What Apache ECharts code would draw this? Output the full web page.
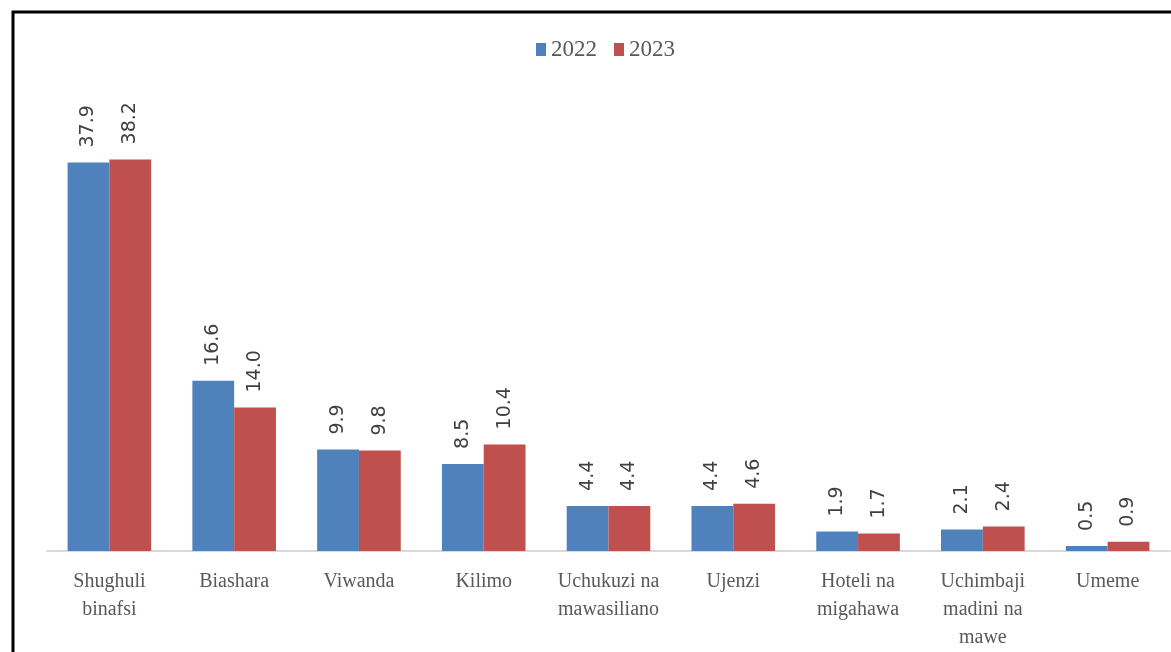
<!DOCTYPE html>
<html>
<head>
<meta charset="utf-8">
<script src="https://cdn.jsdelivr.net/npm/echarts@6/dist/echarts.min.js"></script>
<style>
    html, body { margin: 0; padding: 0; background: #fff; }
    #chart { width: 1171px; height: 652px; }
</style>
</head>
<body>
<div id="chart"></div>
<script>
// sekta na asilimia kwa kila mwaka
const categories = [
    'Shughuli\nbinafsi', 'Biashara', 'Viwanda', 'Kilimo', 'Uchukuzi na\nmawasiliano',
    'Ujenzi', 'Hoteli na\nmigahawa', 'Uchimbaji\nmadini na\nmawe', 'Umeme'
]
const values2022 = [37.9, 16.6, 9.9, 8.5, 4.4, 4.4, 1.9, 2.1, 0.5]
const values2023 = [38.2, 14.0, 9.8, 10.4, 4.4, 4.6, 1.7, 2.4, 0.9]

const chart = echarts.init(document.getElementById('chart'))

const labelStyle = {
    show: true,
    position: 'top',
    rotate: 90,
    align: 'left',
    verticalAlign: 'middle',
    distance: 15,
    fontFamily: 'DejaVu Sans, Arial, sans-serif',
    fontSize: 19,
    color: '#404040',
    formatter: p => p.value.toFixed(1)
}

const option = {
    animation: false,
    legend: {
        data: ['2022', '2023'],
        top: 33,
        left: 531,
        itemWidth: 10,
        itemHeight: 13,
        itemGap: 17,
        icon: 'rect',
        textStyle: { fontFamily: 'Liberation Serif, Times New Roman, serif', fontSize: 23, color: '#595959' }
    },
    grid: { left: 47, right: 1, top: 141, height: 415 },
    xAxis: {
        type: 'category',
        data: categories,
        axisLine: { lineStyle: { color: '#d9d9d9', width: 2 } },
        axisTick: { show: false },
        axisLabel: {
            interval: 0,
            margin: 17,
            lineHeight: 28,
            fontFamily: 'Liberation Serif, Times New Roman, serif',
            fontSize: 20,
            color: '#595959'
        }
    },
    yAxis: {
        type: 'value',
        min: 0,
        max: 40,
        show: false,
        splitLine: { show: false }
    },
    series: [
        {
            name: '2022',
            type: 'bar',
            data: values2022,
            barGap: '0%',
            barCategoryGap: '33%',
            itemStyle: { color: '#4f81bd' },
            label: labelStyle
        },
        {
            name: '2023',
            type: 'bar',
            data: values2023,
            itemStyle: { color: '#c0504d' },
            label: labelStyle
        }
    ],
    // kisanduku cheusi kinachozunguka chati
    graphic: [{
        type: 'rect',
        shape: { x: 13, y: 12, width: 1200, height: 700 },
        style: { fill: 'none', stroke: '#000', lineWidth: 3 }
    }]
}

chart.setOption(option)
</script>
</body>
</html>
